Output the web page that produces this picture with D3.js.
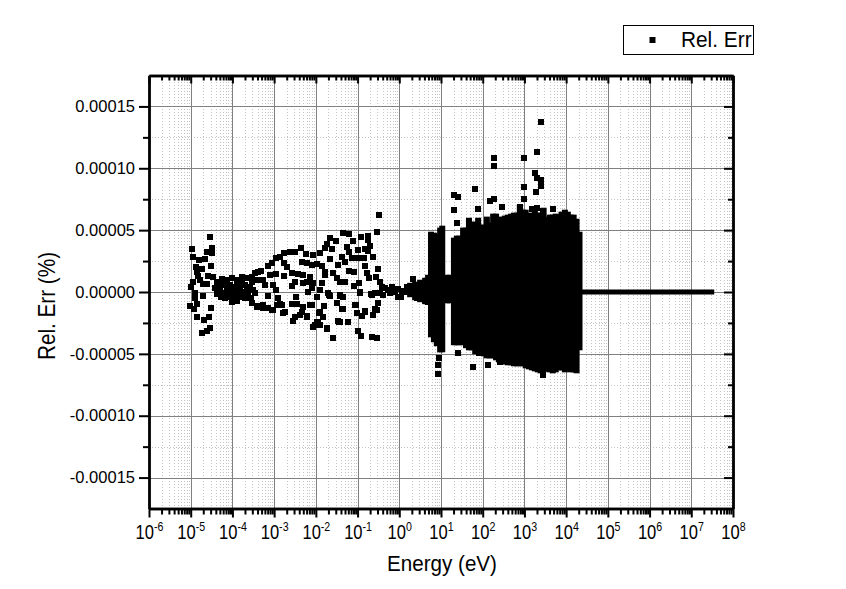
<!DOCTYPE html>
<html>
<head>
<meta charset="utf-8">
<script src="https://d3js.org/d3.v7.min.js"></script>
<style>
body { margin: 0; background: #fff; }
text { font-family: "Liberation Sans", Arial, sans-serif; fill: #000; }
</style>
</head>
<body>
<div class="content"></div>
<script>
var width = 846
var height = 589

// all points are [log10(energy in eV), rel. err in units of 1e-5 %]
var pointsBelow1e4 = [
    [-4.53,4.45],[-4.96,3.48],[-4.49,3.56],[-4.61,3.24],[-4.49,3.16],[-4.95,2.83],[-4.8,2.58],[-4.66,2.67],
    [-4.87,2.02],[-4.51,2.1],[-4.85,1.62],[-4.73,1.86],[-4.82,1.29],[-4.78,.97],[-4.58,1.29],[-4.47,1.21],
    [-4.71,.65],[-4.61,.65],[-4.95,.81],[-5,.4],[-4.9,-.1],[-4.7,-.32],[-4.9,-.49],[-4.85,-.97],
    [-5.02,-1.13],[-4.92,-1.38],[-4.51,-1.29],[-4.85,-2.02],[-4.56,-2.02],[-4.68,-2.27],[-4.53,-2.91],
    [-4.61,-3.16],[-4.73,-3.32],
    [-4.38,.84],[-4.26,1.02],[-4.14,.97],[-4.02,1.11],[-3.9,.97],[-3.78,1.19],[-3.66,1.11],[-3.54,1.24],
    [-3.46,1.56],[-3.38,1.65],[-4.42,.3],[-4.3,.43],[-4.18,.57],[-4.06,.57],[-3.94,.43],[-3.82,.43],
    [-3.7,.57],[-3.58,.43],[-3.46,.97],[-3.38,.97],[-4.36,-.16],[-4.22,-.11],[-4.1,.03],[-3.98,-.11],
    [-3.86,-.05],[-3.74,.03],[-3.62,-.11],[-3.46,-.11],[-4.18,-.51],[-4.06,-.38],[-3.94,-.51],[-3.82,-.43],
    [-3.7,-.51],[-3.62,-.38],[-4.02,-.78],[-3.9,-.7],[-3.54,-.92],[-3.42,-1.13],
    [-4.32,.1],[-4.24,.62],[-4.12,.28],[-4,.3],[-3.88,.7],[-3.76,.72],[-3.64,.3],[-3.52,.8],[-4.28,-.42],
    [-4.14,-.2],[-3.92,-.2],[-3.78,-.2],[-3.56,-.5],[-3.5,.15]
]

var pointsBelow1e2 = [
    [-1.66,4.34],[-1.52,4.13],[-1.74,3.88],[-1.78,3.53],[-1.62,3.45],[-2.36,3.53],[-2.5,3.26],[-2.62,3.26],
    [-2.76,3.13],[-2.86,2.86],[-2.23,3.07],[-2.07,2.99],[-1.9,3.18],[-2.95,2.72],[-3.06,2.37],[-3.14,2.13],
    [-2.76,2.32],[-2.7,2],[-2.34,2.45],[-2.22,2.32],[-2.1,2.18],[-1.98,2.24],[-1.86,2.1],[-1.66,2.64],
    [-1.46,2.18],[-1.78,1.65],[-1.6,1.51],[-1.5,1.1],[-1.42,.84],[-3.31,1.73],[-3.1,1.38],[-2.95,1.46],
    [-2.76,1.29],[-2.58,1.51],[-2.42,1.46],[-2.3,1.38],[-2.14,1.24],[-1.78,1.38],[-1.86,.7],[-2.06,.7],
    [-2.22,.84],[-2.5,.84],[-2.58,.49],[-2.3,.7],[-1.9,.16],[-2.1,.3],[-2.18,.03],[-1.7,-.11],[-1.66,-.32],
    [-1.42,-.24],[-3.27,.97],[-3.22,.57],[-3.02,.57],[-2.95,.16],[-3.14,-.32],[-2.9,-.51],[-2.86,-.97],
    [-3.27,-1.05],[-3.14,-1.32],[-3.02,-1.46],[-2.47,-.38],[-1.98,-.38],[-2.78,-1.67],[-2.58,-.97],
    [-2.46,-.97],[-2.3,-1.19],[-2.14,-1.05],[-2.34,-1.59],[-2.5,-2.05],[-2.22,-1.99],[-2.1,-1.05],
    [-1.8,-1.13],[-1.5,-.92],[-1.92,-1.67],[-1.82,-2.05],[-1.46,-2.32],[-2.02,-2.67],[-1.9,-2.67],
    [-1.74,-2.94],[-1.6,-3.7],
    [-3.54,-.92],[-3.42,-1.19],[-3.26,-1.32],[-3.06,-1.46],[-2.94,-1.05],[-2.82,-1.05],[-2.74,-1.65],
    [-2.54,-2.32],[-2.38,-1.86],[-2.06,-2.81],[-1.94,-2.54],[-1.74,-2.99],[-1.44,-2.4],[-1.22,-2.46],
    [-1,-3.16],[-.92,-3.56],[-.66,-3.61],[-.53,-3.7],[-1.02,-1.73],[-.82,-1.59],[-.62,-1.86],[-.54,-1.46],
    [-.5,-.92],[-1.5,-.92],[-1.36,-1.38],[-1.8,-1.1],[-1.69,-.24],[-1.42,-.32],[-.94,-.05],[-.66,-.24],
    [-1.06,-1.05],[-1.9,-1.65],[-1.98,-2.4],[-2.22,-1.94]
]

var pointsNearOne = [
    [-.48,6.23],[-.54,4.88],[-1.34,4.75],[-1.2,4.67],[-.92,4.42],[-.76,4.56],[-.76,4.21],[-1.12,4.13],
    [-1.26,3.67],[-.7,3.75],[-1.2,3.26],[-.98,3.4],[-.82,3.48],[-.74,3.32],[-1.38,2.86],[-1.14,2.72],
    [-.98,2.78],[-.84,2.78],[-.64,2.86],[-1.3,2.46],[-.81,2.13],[-.52,1.84],[-1.2,1.7],[-1.08,1.65],
    [-.78,1.51],[-.72,1.16],[-.56,1.19],[-1.3,.84],[-.96,.7],[-1.08,.51],[-.46,.84],[-.94,-.03],[-.68,-.19],
    [-.58,-.11],[-1.34,-.38],[-.5,-.86],[-1.04,-1.05],[-1.38,-1.37],[-.58,-1.37],[-.82,-1.51],[-1.02,-1.72],
    [-.9,-1.91],[-.64,-1.86],[-1.22,-2.45],[-1.42,-2.4],[-.98,-3.15],
    [-.42,.43],[-.34,.3],[-.18,.43],[-.02,.24],[.18,.43],[.34,1.05],[.5,.3],[-.38,-.24],[-.22,-.11],
    [-.02,-.38],[.14,.03],[.3,-.11],[.43,-.51],[.58,.3],[.62,-.65],[.7,-.78],[.7,.43],[-.26,.16],[-.1,-.03],
    [.06,.08],[.22,.08],[.38,.08],[.54,-.11],[-.46,-.11],[.68,-.11],[.04,-.4]
]

var pointsOutliers = [
    [3.4,13.75],[3.3,11.33],[2.27,10.84],[2.27,10.2],[2.99,10.84],[3.25,9.63],[3.3,9.2],[3.4,9.06],[3.4,8.58],
    [2.99,8.5],[3.28,8.09],[1.82,8.33],[1.31,7.85],[1.41,7.69],[2.27,7.52],[2.18,7.36],[2.99,7.52],[1.31,6.63],
    [1.89,6.72],[2.46,6.88],[1.38,5.58],[3.69,6.72],[3.45,6.55],[3.18,6.72],[3.3,6.8],[2.9,6.88],
    [.95,-5.34],[.93,-5.9],[.93,-6.63],[1.77,-6.07],[2.13,-5.9],[3.45,-6.72],[1.41,-4.94],[2.42,-5.66],[1.91,-4.94]
]

// the solid block: too many points to tell apart, so only top and bottom of each column are read
var blockLogE = [.26,.38,.5,.62,.69,.76,.83,.9,.98,1.03,1.14,1.21,1.31,1.38,1.43,
    1.53,1.6,1.67,1.74,1.82,1.89,1.96,2.03,2.1,2.17,2.25,2.32,2.39,2.46,2.53,2.6,2.68,2.75,2.82,2.89,
    2.96,3.03,3.11,3.18,3.25,3.32,3.39,3.46,3.54,3.61,3.68,3.75,3.82,3.89,3.97,4.04,4.11,4.18,4.25,4.32]
var blockTop = [.5,.59,.75,.91,1.15,4.63,4.55,4.47,4.96,5.12,1.15,1.15,4.15,4.31,4.31,
    4.96,4.96,5.76,5.44,5.44,5.76,5.2,5.2,5.85,5.36,6.09,6.09,5.6,5.85,5.93,6.01,6.09,6.17,6.17,6.82,
    6.41,6.41,6.17,6.01,6.66,6.17,6.17,6.57,5.85,6.01,6.01,6.09,6.01,6.25,6.41,6.25,6.01,6.01,5.68,4.63]
var blockBottom = [-.18,-.42,-.58,-.74,-.67,-3.42,-3.82,-4.14,-4.63,-4.63,-.67,-.67,-4.06,-4.06,-4.06,
    -4.06,-4.3,-4.47,-4.47,-4.79,-4.63,-4.87,-4.96,-5.12,-5.12,-5.12,-5.28,-5.44,-5.6,-5.6,-5.68,-5.68,-5.76,-5.76,-5.76,
    -5.76,-5.93,-6.01,-6.09,-6.17,-6.25,-6.33,-6.25,-6.17,-6.25,-6.33,-6.25,-6.09,-6.09,-6.25,-6.09,-6.25,-6.25,-6.33,-4.47]

// flat part above 2e4 eV
var flatLogE = [4.33, 7.55]
var flatRel = [0, 0]

var yTicks = [-0.00015, -0.0001, -0.00005, 0, 0.00005, 0.0001, 0.00015]
var yMinorTicks = [-0.000125, -0.000075, -0.000025, 0.000025, 0.000075, 0.000125]
var xDecades = [-6, -5, -4, -3, -2, -1, 0, 1, 2, 3, 4, 5, 6, 7, 8]
var xMinorFactors = [2, 3, 4, 5, 6, 7, 8, 9]

var xTitle = 'Energy (eV)'
var yTitle = 'Rel. Err (%)'
var legendLabel = 'Rel. Err'

var plot = { left: 149, right: 733, top: 75.5, bottom: 508.5 }
var markerSize = 6

var x = d3.scaleLog()
    .domain([1e-6, 1e8])
    .range([plot.left, plot.right])

var y = d3.scaleLinear()
    .domain([-0.000175, 0.000175])
    .range([plot.bottom, plot.top])

var xMajor = xDecades.map(function(d) { return Math.pow(10, d) })
var xMinor = []
xDecades.slice(0, -1).forEach(function(d) {
    xMinorFactors.forEach(function(f) { xMinor.push(f * Math.pow(10, d)) })
})

var svg = d3.select('.content').append('svg')
    .attr('width', width)
    .attr('height', height)
    .style('display', 'block')

// grid
function grid(axis, pos, ticks, color, dash, w) {
    var g = svg.append('g')
        .attr('transform', pos)
        .call(axis.tickValues(ticks).tickFormat(''))
    g.select('.domain').remove()
    g.selectAll('line')
        .style('stroke', color)
        .style('stroke-width', w)
        .style('stroke-dasharray', dash)
        .style('shape-rendering', 'crispEdges')
}

var plotW = plot.right - plot.left
var plotH = plot.bottom - plot.top
var bottomPos = 'translate(0,' + plot.bottom + ')'
var leftPos = 'translate(' + plot.left + ',0)'

grid(d3.axisBottom(x).tickSize(-plotH), bottomPos, xMinor, '#c4c4c4', '1,2', 1)
grid(d3.axisLeft(y).tickSize(-plotW), leftPos, yMinorTicks, '#c4c4c4', '1,2', 1)
grid(d3.axisBottom(x).tickSize(-plotH), bottomPos, xMajor, '#808080', null, 1)
grid(d3.axisLeft(y).tickSize(-plotW), leftPos, yTicks, '#808080', null, 1)

// data
var marks = svg.append('g')

marks.selectAll('rect.block')
    .data(blockLogE)
    .enter().append('rect')
    .attr('class', 'block')
    .attr('x', function(d) { return x(Math.pow(10, d)) - markerSize / 2 })
    .attr('width', markerSize)
    .attr('y', function(d, i) { return y(blockTop[i] * 1e-5) - markerSize / 2 })
    .attr('height', function(d, i) { return y(blockBottom[i] * 1e-5) - y(blockTop[i] * 1e-5) + markerSize })
    .style('fill', '#000')

marks.append('path')
    .datum(flatLogE.map(function(d, i) { return [d, flatRel[i]] }))
    .attr('d', d3.line()
        .x(function(d) { return x(Math.pow(10, d[0])) })
        .y(function(d) { return y(d[1] * 1e-5) }))
    .style('fill', 'none')
    .style('stroke', '#000')
    .style('stroke-width', 5)

var points = pointsBelow1e4.concat(pointsBelow1e2, pointsNearOne, pointsOutliers)

marks.selectAll('rect.pt')
    .data(points)
    .enter().append('rect')
    .attr('class', 'pt')
    .attr('x', function(d) { return x(Math.pow(10, d[0])) - markerSize / 2 })
    .attr('y', function(d) { return y(d[1] * 1e-5) - markerSize / 2 })
    .attr('width', markerSize)
    .attr('height', markerSize)
    .style('fill', '#000')
    .style('shape-rendering', 'crispEdges')

// axes
function styleAxis(g) {
    g.selectAll('.domain').style('stroke', '#000').style('stroke-width', 2.4)
    g.selectAll('line').style('stroke', '#000').style('stroke-width', 2)
}

function addAxis(axis, pos) {
    var g = svg.append('g')
        .attr('transform', pos)
        .call(axis)
    g.call(styleAxis)
    return g
}

function noLabel(axis, ticks, size) {
    return axis.tickValues(ticks).tickSize(size).tickFormat('').tickSizeOuter(0)
}

var topPos = 'translate(0,' + plot.top + ')'
var rightPos = 'translate(' + plot.right + ',0)'

addAxis(noLabel(d3.axisBottom(x), xMinor, 6), bottomPos)
addAxis(noLabel(d3.axisLeft(y), yMinorTicks, 6), leftPos)
addAxis(noLabel(d3.axisBottom(x), xMinor, 5), topPos)
addAxis(noLabel(d3.axisLeft(y), yMinorTicks, 5), rightPos)
addAxis(noLabel(d3.axisBottom(x), xMajor, 8), topPos)
addAxis(noLabel(d3.axisLeft(y), yTicks, 9), rightPos)

var xAxis = addAxis(d3.axisBottom(x)
    .tickValues(xMajor)
    .tickSize(9)
    .tickSizeOuter(0)
    .tickFormat(''), bottomPos)

xAxis.selectAll('.tick text').each(function(d) {
    var t = d3.select(this)
        .attr('y', 0)
        .attr('dy', 0)
        .attr('transform', 'translate(0,30.5) scale(.85,1)')
        .style('font-size', '19.5px')
        .style('text-anchor', 'middle')
    t.append('tspan').text('10')
    t.append('tspan')
        .attr('dy', -8)
        .style('font-size', '12.5px')
        .text(String(Math.round(Math.log10(d))))
})

var yAxis = addAxis(d3.axisLeft(y)
    .tickValues(yTicks)
    .tickSize(10)
    .tickSizeOuter(0)
    .tickFormat(function(d) { return d3.format('.5f')(d).replace('\u2212', '-') }), leftPos)

yAxis.selectAll('.tick text')
    .attr('x', -14)
    .style('font-size', '16.5px')

// titles
svg.append('text')
    .attr('transform', 'translate(442,571) scale(.92,1)')
    .attr('text-anchor', 'middle')
    .style('font-size', '22.4px')
    .text(xTitle)

svg.append('text')
    .attr('transform', 'translate(55,306) rotate(-90) scale(.9,1)')
    .attr('text-anchor', 'middle')
    .style('font-size', '23px')
    .text(yTitle)

// legend
var legend = svg.append('g')

legend.append('rect')
    .attr('x', 623.5)
    .attr('y', 25.5)
    .attr('width', 130)
    .attr('height', 29)
    .style('fill', '#fff')
    .style('stroke', '#000')
    .style('stroke-width', 1)

legend.append('rect')
    .attr('x', 649.5)
    .attr('y', 37)
    .attr('width', markerSize)
    .attr('height', markerSize)
    .style('fill', '#000')

legend.append('text')
    .attr('transform', 'translate(681,47) scale(.93,1)')
    .style('font-size', '22.4px')
    .text(legendLabel)
</script>
</body>
</html>
